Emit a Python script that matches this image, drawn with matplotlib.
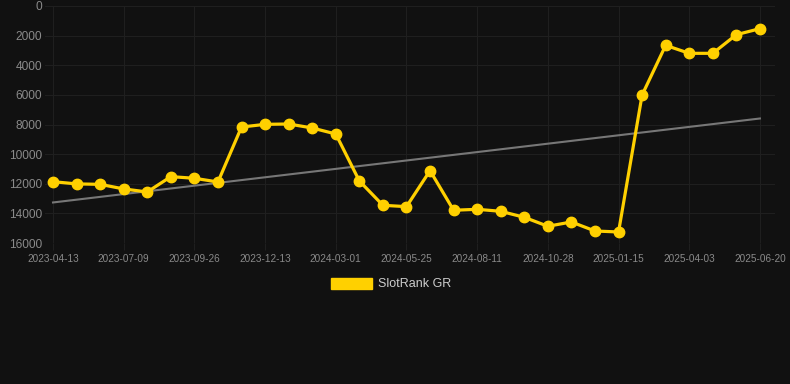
import matplotlib.pyplot as plt
import numpy as np

plt.rcParams['font.family'] = ['Liberation Sans', 'DejaVu Sans']

# monthly snapshots; only every third date is labelled on the axis
dates = ['2023-04-13', '2023-05-12', '2023-06-10', '2023-07-09', '2023-08-05', '2023-09-01',
         '2023-09-26', '2023-10-23', '2023-11-18', '2023-12-13', '2024-01-09', '2024-02-04',
         '2024-03-01', '2024-03-30', '2024-04-27', '2024-05-25', '2024-06-21', '2024-07-17',
         '2024-08-11', '2024-09-06', '2024-10-02', '2024-10-28', '2024-11-23', '2024-12-20',
         '2025-01-15', '2025-02-11', '2025-03-09', '2025-04-03', '2025-04-29', '2025-05-25',
         '2025-06-20']
rank_gr = [11860, 12010, 12040, 12350, 12555, 11520, 11630, 11880, 8170, 7990, 7965,
           8235, 8640, 11810, 13455, 13545, 11115, 13790, 13725, 13860, 14265, 14870,
           14580, 15190, 15255, 6010, 2655, 3195, 3195, 1935, 1530]
series_name = 'SlotRank GR'
y_ticks = [0, 2000, 4000, 6000, 8000, 10000, 12000, 14000, 16000]

BG = '#111111'
GRID = '#1f1f1f'
GOLD = '#ffd000'

x = np.arange(len(dates))
slope, icept = np.polyfit(x, rank_gr, 1)

fig = plt.figure(figsize=(7.9, 3.84), dpi=100, facecolor=BG)
ax = fig.add_axes([45 / 790, 141 / 384, 730 / 790, 237 / 384])
ax.set_facecolor(BG)

ax.plot(x, slope * x + icept + 80, color='#777777', lw=1.5, zorder=2)
ax.plot(x, rank_gr, color=GOLD, lw=2.3, marker='o', ms=7.5, zorder=3, label=series_name)

ax.set_xlim(-0.34, 30.64)
ax.set_ylim(16000, 0)
ax.set_yticks(y_ticks)
ax.set_yticklabels([str(v) for v in y_ticks])
ax.set_xticks(x[::3])
ax.set_xticklabels(dates[::3])

ax.grid(True, color=GRID, lw=0.8)
ax.set_axisbelow(True)
for s in ax.spines.values():
    s.set_visible(False)
ax.tick_params(axis='x', colors=GRID, labelcolor='#8a8a8a', labelsize=7.2, length=5, pad=3)
ax.tick_params(axis='y', colors=GRID, labelcolor='#8a8a8a', labelsize=8.6, length=0, pad=2)

leg = fig.legend(handles=[plt.Rectangle((0, 0), 1, 1, color=GOLD)], labels=[series_name],
                 loc='center', bbox_to_anchor=(391 / 790, 1 - 284 / 384), frameon=False,
                 handlelength=3.3, handleheight=1.0, handletextpad=0.5, fontsize=9)
for t in leg.get_texts():
    t.set_color('#cccccc')

fig.savefig('out.png', dpi=100, facecolor=BG)
